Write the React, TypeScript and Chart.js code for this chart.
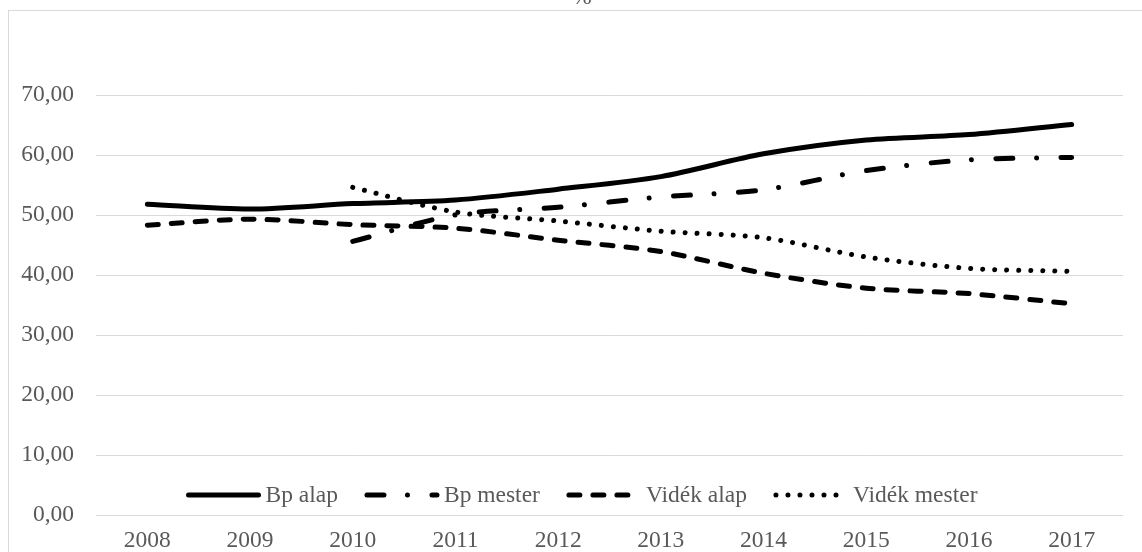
import React, { useEffect, useRef } from 'react';
import { Chart, registerables } from 'chart.js';

Chart.register(...registerables);

const years = ['2008', '2009', '2010', '2011', '2012', '2013', '2014', '2015', '2016', '2017'];
const bpAlap = [51.8, 51.0, 51.9, 52.5, 54.3, 56.4, 60.2, 62.5, 63.4, 65.1];
const bpMester = [null, null, 45.6, 50.0, 51.3, 53.0, 54.2, 57.4, 59.2, 59.6];
const videkAlap = [48.3, 49.3, 48.4, 47.8, 45.8, 43.9, 40.3, 37.8, 36.9, 35.2];
const videkMester = [null, null, 54.6, 50.5, 49.0, 47.3, 46.2, 43.0, 41.1, 40.6];
const seriesLabels = ['Bp alap', 'Bp mester', 'Vidék alap', 'Vidék mester'];
const yTitle = '%';

const FONT = '"Liberation Serif", "Times New Roman", serif';
const TEXT = '#595959';
const GRID = '#d9d9d9';

export default function App() {
  const ref = useRef<HTMLCanvasElement>(null);

  useEffect(() => {
    const canvas = ref.current;
    if (!canvas) return;

    const framePlugin = {
      id: 'frameAndLegend',
      beforeDraw(chart: any) {
        const ctx = chart.ctx;
        ctx.save();
        ctx.fillStyle = '#ffffff';
        ctx.fillRect(0, 0, chart.width, chart.height);
        ctx.strokeStyle = GRID;
        ctx.lineWidth = 1;
        ctx.strokeRect(8.5, 10.5, chart.width + 20, chart.height + 20);
        ctx.font = `23px ${FONT}`;
        ctx.fillStyle = TEXT;
        ctx.textAlign = 'center';
        ctx.textBaseline = 'alphabetic';
        ctx.fillText(yTitle, 582, 4);
        ctx.restore();
      },
      afterDraw(chart: any) {
        const ctx = chart.ctx;
        ctx.save();
        ctx.font = `23.5px ${FONT}`;
        const sampleW = 74;
        const gap = 5;
        const itemGap = 27;
        const items = chart.data.datasets.map((ds: any) => ({ ds, w: ctx.measureText(ds.label).width }));
        const total =
          items.reduce((a: number, it: any) => a + sampleW + gap + it.w, 0) + itemGap * (items.length - 1);
        let x = 582 - total / 2;
        const y = 495;
        for (const it of items) {
          ctx.beginPath();
          ctx.setLineDash(it.ds.borderDash || []);
          ctx.lineCap = 'round';
          ctx.lineWidth = it.ds.borderWidth;
          ctx.strokeStyle = '#000000';
          ctx.moveTo(x + 2, y);
          ctx.lineTo(x + sampleW - 2, y);
          ctx.stroke();
          ctx.setLineDash([]);
          ctx.fillStyle = TEXT;
          ctx.textAlign = 'left';
          ctx.textBaseline = 'middle';
          ctx.fillText(it.ds.label, x + sampleW + gap, y + 1);
          x += sampleW + gap + it.w + itemGap;
        }
        ctx.restore();
      },
    };

    const common = {
      borderColor: '#000000',
      backgroundColor: '#000000',
      borderWidth: 5,
      pointRadius: 0,
      pointHoverRadius: 0,
      tension: 0.3,
      borderCapStyle: 'round' as const,
      borderJoinStyle: 'round' as const,
      fill: false,
    };

    const chart = new Chart(canvas, {
      type: 'line',
      data: {
        labels: years,
        datasets: [
          { ...common, label: seriesLabels[0], data: bpAlap, borderDash: [] },
          { ...common, label: seriesLabels[1], data: bpMester, borderDash: [17, 23.5, 0.01, 24.5] },
          { ...common, label: seriesLabels[2], data: videkAlap, borderDash: [11, 13] },
          { ...common, label: seriesLabels[3], data: videkMester, borderDash: [0.01, 12] },
        ],
      },
      options: {
        responsive: false,
        animation: false,
        devicePixelRatio: 1,
        layout: { padding: { top: 95, right: 19, left: 0, bottom: 0 } },
        plugins: {
          legend: { display: false },
          tooltip: { enabled: false },
          title: { display: false },
        },
        scales: {
          x: {
            offset: true,
            grid: { display: false, drawTicks: false },
            border: { display: false },
            ticks: {
              color: TEXT,
              font: { family: FONT, size: 23.5 },
              padding: 12,
              maxRotation: 0,
              autoSkip: false,
            },
            afterFit: (s: any) => {
              s.height = 37;
            },
          },
          y: {
            min: 0,
            max: 70,
            grid: { color: GRID, lineWidth: 1, drawTicks: false },
            border: { display: false },
            ticks: {
              stepSize: 10,
              color: TEXT,
              font: { family: FONT, size: 23.5 },
              padding: 22,
              callback: (v: any) => Number(v).toFixed(2).replace('.', ','),
            },
            afterFit: (s: any) => {
              s.width = 96;
            },
          },
        },
      },
      plugins: [framePlugin],
    });

    return () => chart.destroy();
  }, []);

  return (
    <div style={{ position: 'absolute', left: 0, top: 0, width: 1142, height: 552, overflow: 'hidden' }}>
      <canvas ref={ref} width={1142} height={552} style={{ display: 'block' }} />
    </div>
  );
}
